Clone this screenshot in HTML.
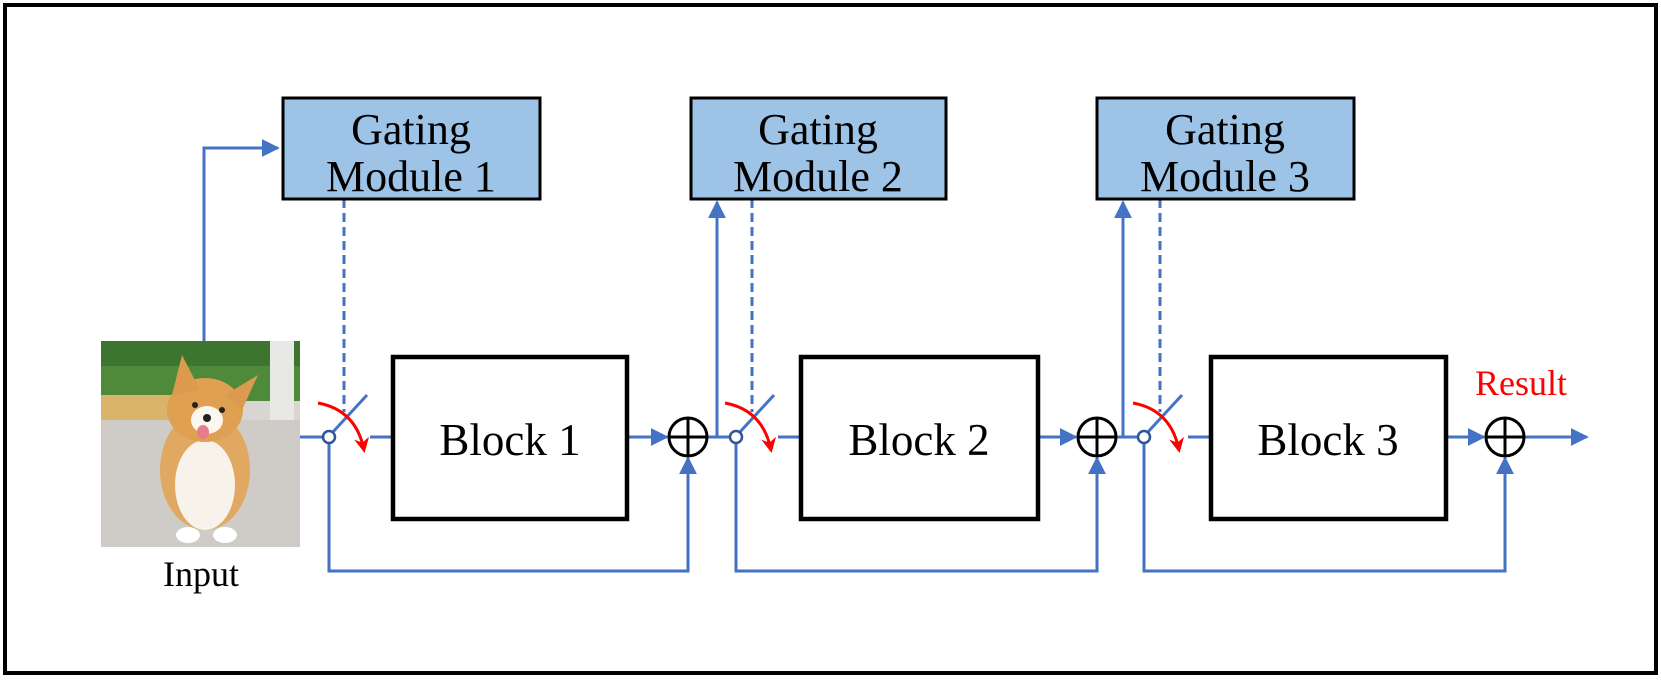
<!DOCTYPE html>
<html><head><meta charset="utf-8"><style>
html,body{margin:0;padding:0;background:#fff;}
svg{display:block;}
text{font-family:"Liberation Serif",serif;}
</style></head><body>
<svg width="1661" height="681" viewBox="0 0 1661 681" xmlns="http://www.w3.org/2000/svg">
<defs>
<marker id="a" viewBox="0 0 10 10" refX="9" refY="5" markerWidth="6" markerHeight="6" orient="auto" markerUnits="strokeWidth"><path d="M0,0L10,5L0,10z" fill="#4472c4"/></marker>
<marker id="r" viewBox="0 0 10 10" refX="8" refY="5" markerWidth="5" markerHeight="5" orient="auto" markerUnits="strokeWidth"><path d="M0,0L10,5L0,10L3,5z" fill="#ff0000"/></marker>
</defs>
<rect x="5" y="5" width="1651" height="668" fill="#fff" stroke="#000" stroke-width="4"/>

<!-- dog image approximation -->
<g>
<rect x="101" y="341" width="199" height="206" fill="#d9d6d2"/>
<rect x="101" y="341" width="199" height="60" fill="#4f8a3a"/>
<rect x="101" y="341" width="199" height="25" fill="#3d7530"/>
<rect x="270" y="341" width="24" height="80" fill="#e8e8e6"/>
<rect x="101" y="395" width="90" height="25" fill="#d9b46a"/>
<rect x="101" y="420" width="199" height="127" fill="#cfcbc6"/>
<ellipse cx="205" cy="470" rx="45" ry="60" fill="#e0a860"/>
<ellipse cx="205" cy="485" rx="30" ry="45" fill="#f7f2ea"/>
<ellipse cx="205" cy="410" rx="38" ry="32" fill="#e0a052"/>
<path d="M172,395 L182,355 L200,390z" fill="#dc9a4e"/>
<path d="M225,395 L258,375 L242,410z" fill="#dc9a4e"/>
<ellipse cx="207" cy="420" rx="16" ry="14" fill="#fbf6ee"/>
<circle cx="195" cy="405" r="3" fill="#222"/><circle cx="222" cy="410" r="3" fill="#222"/>
<circle cx="207" cy="418" r="4" fill="#222"/>
<ellipse cx="203" cy="432" rx="6" ry="7" fill="#e57d8a"/>
<ellipse cx="188" cy="535" rx="12" ry="8" fill="#fff"/><ellipse cx="225" cy="535" rx="12" ry="8" fill="#fff"/>
</g>
<text x="201" y="586" font-size="36" text-anchor="middle">Input</text>

<g stroke="#4472c4" stroke-width="3" fill="none">
<polyline points="204,341 204,148 278,148" marker-end="url(#a)"/>
<line x1="300" y1="437" x2="324" y2="437"/>
<line x1="370" y1="437" x2="393" y2="437"/>
<line x1="627" y1="437" x2="667" y2="437" marker-end="url(#a)"/>
<line x1="708" y1="437" x2="731" y2="437"/>
<line x1="778" y1="437" x2="801" y2="437"/>
<line x1="1038" y1="437" x2="1076" y2="437" marker-end="url(#a)"/>
<line x1="1117" y1="437" x2="1139" y2="437"/>
<line x1="1188" y1="437" x2="1211" y2="437"/>
<line x1="1446" y1="437" x2="1484" y2="437" marker-end="url(#a)"/>
<line x1="1525" y1="437" x2="1587" y2="437" marker-end="url(#a)"/>
<line x1="332" y1="433" x2="367" y2="395"/>
<line x1="739" y1="433" x2="774" y2="395"/>
<line x1="1147" y1="433" x2="1182" y2="395"/>
<polyline points="329,442 329,571 688,571 688,458" marker-end="url(#a)"/>
<polyline points="736,442 736,571 1097,571 1097,458" marker-end="url(#a)"/>
<polyline points="1144,442 1144,571 1505,571 1505,458" marker-end="url(#a)"/>
<polyline points="717,437 717,202" marker-end="url(#a)"/>
<polyline points="1123,437 1123,202" marker-end="url(#a)"/>
<line x1="344" y1="199" x2="344" y2="412" stroke-dasharray="9,5"/>
<line x1="752" y1="199" x2="752" y2="412" stroke-dasharray="9,5"/>
<line x1="1160" y1="199" x2="1160" y2="412" stroke-dasharray="9,5"/>
</g>
<g fill="#fff" stroke="#2f5597" stroke-width="2.5">
<circle cx="329" cy="437" r="6"/><circle cx="736" cy="437" r="6"/><circle cx="1144" cy="437" r="6"/>
</g>
<g stroke="#ff0000" stroke-width="3" fill="none">
<path d="M318,403 Q356,410 364,450" marker-end="url(#r)"/>
<path d="M725,403 Q763,410 771,450" marker-end="url(#r)"/>
<path d="M1133,403 Q1171,410 1179,450" marker-end="url(#r)"/>
</g>

<g fill="#9dc3e6" stroke="#000" stroke-width="3">
<rect x="283" y="98" width="257" height="101"/>
<rect x="691" y="98" width="255" height="101"/>
<rect x="1097" y="98" width="257" height="101"/>
</g>
<g font-size="44" text-anchor="middle">
<text x="411" y="144">Gating</text><text x="411" y="191">Module 1</text>
<text x="818" y="144">Gating</text><text x="818" y="191">Module 2</text>
<text x="1225" y="144">Gating</text><text x="1225" y="191">Module 3</text>
</g>

<g fill="#fff" stroke="#000" stroke-width="4.5">
<rect x="393" y="357" width="234" height="162"/>
<rect x="801" y="357" width="237" height="162"/>
<rect x="1211" y="357" width="235" height="162"/>
</g>
<g font-size="45" text-anchor="middle">
<text x="510" y="455">Block 1</text>
<text x="919" y="455">Block 2</text>
<text x="1328" y="455">Block 3</text>
</g>

<g fill="#fff" stroke="#000" stroke-width="3">
<circle cx="688" cy="437" r="19"/><line x1="669" y1="437" x2="707" y2="437"/><line x1="688" y1="418" x2="688" y2="456"/>
<circle cx="1097" cy="437" r="19"/><line x1="1078" y1="437" x2="1116" y2="437"/><line x1="1097" y1="418" x2="1097" y2="456"/>
<circle cx="1505" cy="437" r="19"/><line x1="1486" y1="437" x2="1524" y2="437"/><line x1="1505" y1="418" x2="1505" y2="456"/>
</g>
<text x="1521" y="395" font-size="36" fill="#ff0000" text-anchor="middle">Result</text>
</svg>
</body></html>
